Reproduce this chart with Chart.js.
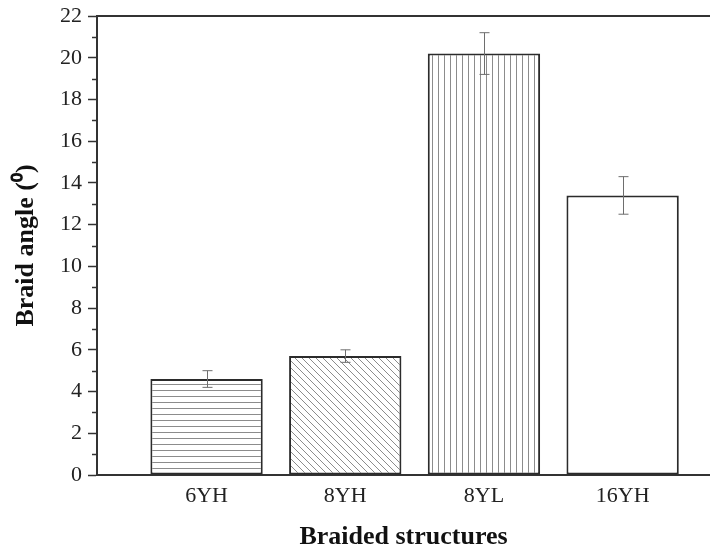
<!DOCTYPE html>
<html>
<head>
<meta charset="utf-8">
<script src="https://cdn.jsdelivr.net/npm/chart.js@4"></script>
<style>
  html, body { margin: 0; padding: 0; background: #fff; }
  #wrap { width: 710px; height: 548px; }
</style>
</head>
<body>
<div id="wrap"><canvas id="braidChart" width="710" height="548"></canvas></div>
<script>
// data
const categories = ['6YH', '8YH', '8YL', '16YH'];
const braidAngle = [4.6, 5.7, 20.2, 13.4];
const angleError = [0.4, 0.3, 1.0, 0.9];
const yTicks = [0, 2, 4, 6, 8, 10, 12, 14, 16, 18, 20, 22];

// hatch fills
function makeHatch(kind) {
    const c = document.createElement('canvas');
    const s = kind === 'diag' ? 7 : 6;
    c.width = s; c.height = s;
    const g = c.getContext('2d');
    g.fillStyle = '#fff';
    g.fillRect(0, 0, s, s);
    g.strokeStyle = '#8c8c8c';
    g.lineWidth = 1;
    g.beginPath();
    if (kind === 'horiz') {
        g.moveTo(0, 0.5); g.lineTo(s, 0.5);
    } else if (kind === 'vert') {
        g.moveTo(0.5, 0); g.lineTo(0.5, s);
    } else if (kind === 'diag') {
        g.moveTo(-1, -1); g.lineTo(s + 1, s + 1);
        g.moveTo(-1, s - 1); g.lineTo(1, s + 1);
        g.moveTo(s - 1, -1); g.lineTo(s + 1, 1);
    }
    g.stroke();
    return g.createPattern(c, 'repeat');
}

const ctx = document.getElementById('braidChart').getContext('2d');
const fills = [makeHatch('horiz'), makeHatch('diag'), makeHatch('vert'), '#ffffff'];

// error bars + minor ticks
const extrasPlugin = {
    id: 'extras',
    afterDatasetsDraw(chart) {
        const g = chart.ctx;
        const xs = chart.scales.x, ys = chart.scales.y;
        g.save();
        g.strokeStyle = '#6e6e6e';
        g.lineWidth = 1;
        braidAngle.forEach((v, i) => {
            const x = Math.round(xs.getPixelForValue(i + 1)) + 0.5;
            const top = ys.getPixelForValue(v + angleError[i]);
            const bot = ys.getPixelForValue(v - angleError[i]);
            g.beginPath();
            g.moveTo(x, top); g.lineTo(x, bot);
            g.moveTo(x - 5, top); g.lineTo(x + 5, top);
            g.moveTo(x - 5, bot); g.lineTo(x + 5, bot);
            g.stroke();
        });
        // minor ticks on y
        g.strokeStyle = '#333';
        g.lineWidth = 1.5;
        const left = chart.chartArea.left;
        for (let v = 1; v < 22; v += 2) {
            const y = Math.round(ys.getPixelForValue(v)) + 0.5;
            g.beginPath();
            g.moveTo(left - 5, y); g.lineTo(left, y);
            g.stroke();
        }
        g.restore();
    }
};

new Chart(ctx, {
    type: 'bar',
    data: {
        datasets: [{
            label: 'Braid angle',
            data: braidAngle.map((v, i) => ({ x: i + 1, y: v })),
            backgroundColor: fills,
            borderColor: '#2b2b2b',
            borderWidth: 2,
            borderSkipped: false,
            barPercentage: 0.81,
            categoryPercentage: 1
        }]
    },
    options: {
        responsive: false,
        animation: false,
        layout: { padding: 0 },
        plugins: {
            legend: { display: false },
            tooltip: { enabled: false }
        },
        scales: {
            x: {
                type: 'linear',
                position: 'bottom',
                offset: false,
                min: 0.21,
                max: 4.63,
                afterBuildTicks(scale) {
                    scale.ticks = categories.map((c, i) => ({ value: i + 1 }));
                },
                afterFit(scale) { scale.height = 73; },
                grid: { display: false, drawTicks: false },
                border: { display: true, color: '#333', width: 2 },
                ticks: {
                    padding: 8,
                    color: '#222',
                    maxRotation: 0,
                    font: { family: 'Liberation Serif', size: 22 },
                    callback: (v) => categories[v - 1] || ''
                },
                title: {
                    display: true,
                    text: 'Braided structures',
                    color: '#111',
                    padding: { top: 0, bottom: -2 },
                    font: { family: 'Liberation Serif', size: 26, weight: 'bold', lineHeight: 1 }
                }
            },
            xTop: {
                type: 'linear',
                position: 'top',
                offset: false,
                min: 0,
                max: 1,
                afterFit(scale) { scale.height = 16; },
                grid: { display: false, drawTicks: false },
                border: { display: true, color: '#333', width: 2 },
                ticks: { display: false }
            },
            y: {
                min: 0,
                max: 22,
                afterBuildTicks(scale) {
                    scale.ticks = yTicks.map(v => ({ value: v }));
                },
                afterFit(scale) {
                    scale.width = 97;
                    scale.paddingTop = 0;
                    scale.paddingBottom = 0;
                },
                grid: { drawOnChartArea: false, tickLength: 9, color: '#333', tickWidth: 1.5 },
                border: { display: true, color: '#333', width: 2 },
                ticks: {
                    padding: 6,
                    color: '#222',
                    font: { family: 'Liberation Serif', size: 22 }
                },
                title: {
                    display: true,
                    text: 'Braid angle (\u2070)',
                    color: '#111',
                    padding: { top: 13, bottom: 0 },
                    font: { family: 'Liberation Serif', size: 26, weight: 'bold', lineHeight: 1 }
                }
            }
        }
    },
    plugins: [extrasPlugin]
});
</script>
</body>
</html>
